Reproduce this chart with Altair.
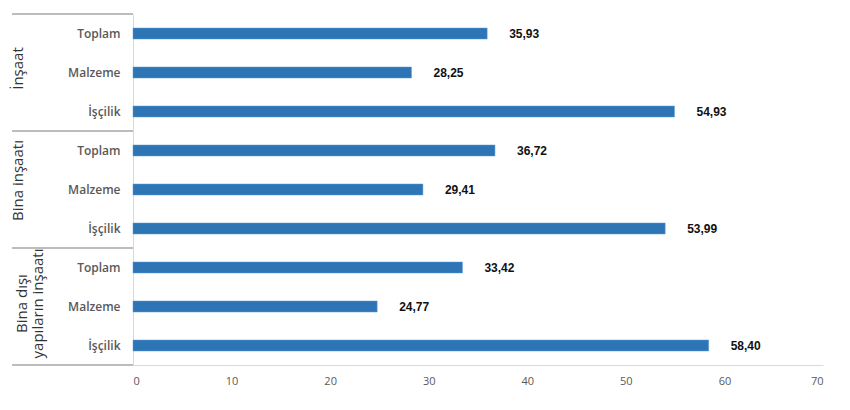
import altair as alt
import pandas as pd

groups = ["İnşaat", "Bina inşaatı", "Bina dışı\nyapıların inşaatı"]
items = ["Toplam", "Malzeme", "İşçilik"]
values = [
    [35.93, 28.25, 54.93],
    [36.72, 29.41, 53.99],
    [33.42, 24.77, 58.40],
]
x_ticks = [0, 10, 20, 30, 40, 50, 60, 70]

rows = []
for gi, g in enumerate(groups):
    for ii, it in enumerate(items):
        v = values[gi][ii]
        rows.append({
            "group": g,
            "gi": gi,
            "item": it,
            "key": f"{gi}|{it}",
            "value": v,
            "label": f"{v:.2f}".replace(".", ","),
            "first": ii == 0,
            "mid": ii == 1,
            "last": ii == len(items) - 1,
            "lastgroup": gi == len(groups) - 1,
        })
df = pd.DataFrame(rows)
order = list(df["key"])

base = alt.Chart(df)
yenc = alt.Y("key:N", sort=order, scale=alt.Scale(paddingInner=0, paddingOuter=0),
             axis=alt.Axis(title=None, labelExpr="split(datum.label, '|')[1]",
                           ticks=False, labelPadding=13, labelFont="Open Sans",
                           labelFontWeight=600, labelFontSize=12, labelColor="#595959",
                           domainColor="#d9d9d9", domainWidth=1))

bars = base.mark_bar(size=11, color="#2E75B6", stroke="#5b9bd5", strokeWidth=0.5).encode(
    x=alt.X("value:Q", scale=alt.Scale(domain=[0, 70]),
            axis=alt.Axis(title=None, values=x_ticks, grid=False, ticks=False,
                          labelPadding=10, labelFont="Open Sans", labelFontSize=11,
                          labelColor="#595959", domainColor="#d9d9d9", domainWidth=1)),
    y=yenc,
)

texts = base.mark_text(align="left", baseline="middle", dx=22, font="Liberation Sans",
                       fontWeight="bold", fontSize=12, color="#111111").encode(
    x="value:Q",
    y=alt.Y("key:N", sort=order),
    text="label:N",
)

gl_base = base.transform_filter("datum.mid").transform_calculate(
    glines="split(datum.group, '\\n')"
)
label_layers = []
for gi, (xpos, off) in enumerate([(-115, 4), (-115, 9), (-111, 3)]):
    label_layers.append(
        gl_base.transform_filter(f"datum.gi == {gi}").mark_text(
            angle=270, align="center", baseline="middle", font="Open Sans",
            fontSize=15, color="#333333", lineHeight=16, dx=off).encode(
            x=alt.value(xpos),
            y=alt.Y("key:N", sort=order),
            text="glines:N",
        )
    )

sep_top = base.transform_filter("datum.first").mark_rule(color="#a6a6a6", strokeWidth=1.5).encode(
    x=alt.value(-121), x2=alt.value(0),
    y=alt.Y("key:N", sort=order, bandPosition=0),
)
sep_bottom = base.transform_filter("datum.last && datum.lastgroup").mark_rule(
    color="#a6a6a6", strokeWidth=1.5).encode(
    x=alt.value(-121), x2=alt.value(0),
    y=alt.Y("key:N", sort=order, bandPosition=1),
)

chart = alt.layer(bars, texts, *label_layers, sep_top, sep_bottom).properties(
    width=690, height=351,
    autosize=alt.AutoSizeParams(type="none"),
    padding={"left": 133, "top": 14, "right": 27, "bottom": 45},
    background="white",
).configure_view(stroke=None)

chart.save("out.html", embed_options={"renderer": "svg", "actions": False})
